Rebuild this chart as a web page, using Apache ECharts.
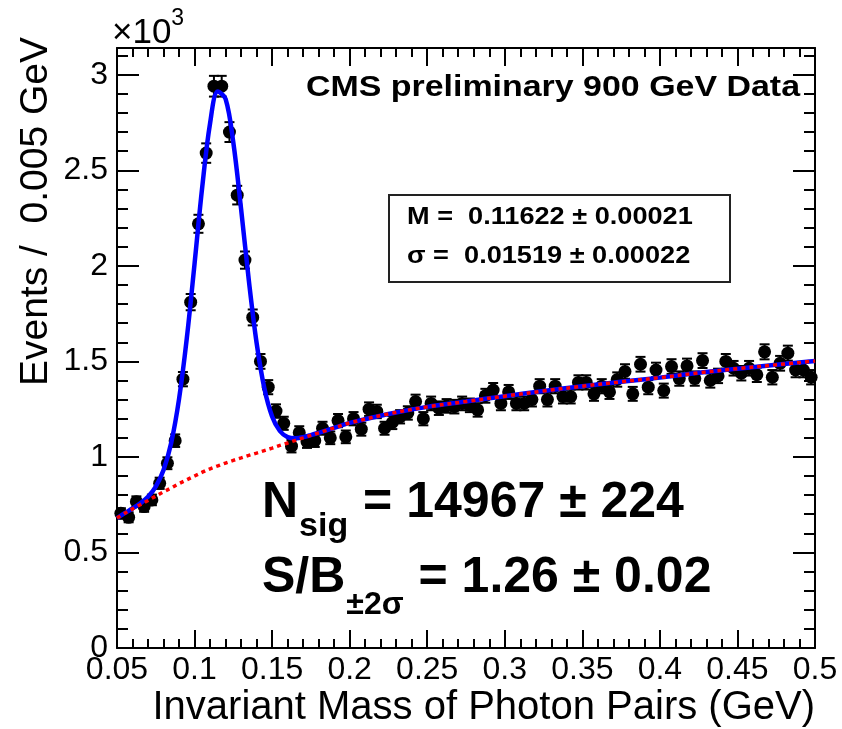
<!DOCTYPE html>
<html>
<head>
<meta charset="utf-8">
<script src="https://cdn.jsdelivr.net/npm/echarts@6/dist/echarts.min.js"></script>
<style>
  html, body { margin: 0; padding: 0; background: #fff; }
  #chart { width: 842px; height: 729px; }
</style>
</head>
<body>
<div id="chart"></div>
<script>
// Binning: 90 bins of 0.005 GeV between 0.05 and 0.5 GeV
const binLow = 0.05;
const binWidth = 0.005;
const binCenters = Array.from({ length: 90 }, (_, i) => +(binLow + binWidth * (i + 0.5)).toFixed(4));

// Events per bin (in units of 10^3)
const events = [
  0.705, 0.684, 0.766, 0.740, 0.775, 0.862, 0.967, 1.085, 1.407, 1.810,
  2.220, 2.590, 2.940, 2.940, 2.700, 2.370, 2.030, 1.730, 1.500, 1.365,
  1.240, 1.176, 1.056, 1.127, 1.080, 1.085, 1.150, 1.100, 1.190, 1.105,
  1.200, 1.145, 1.250, 1.238, 1.150, 1.180, 1.210, 1.230, 1.290, 1.200,
  1.280, 1.255, 1.267, 1.263, 1.280, 1.270, 1.246, 1.320, 1.350, 1.280,
  1.340, 1.280, 1.280, 1.300, 1.370, 1.300, 1.370, 1.316, 1.316, 1.390,
  1.390, 1.330, 1.370, 1.340, 1.405, 1.447, 1.330, 1.485, 1.365, 1.455,
  1.347, 1.473, 1.410, 1.476, 1.410, 1.504, 1.400, 1.424, 1.500, 1.464,
  1.438, 1.464, 1.430, 1.550, 1.417, 1.490, 1.543, 1.455, 1.455, 1.417
];

// Background component of the fit (in units of 10^3)
const bgX = [
  0.050, 0.055, 0.060, 0.065, 0.070, 0.075, 0.080, 0.085, 0.090, 0.095,
  0.100, 0.105, 0.110, 0.115, 0.120, 0.125, 0.130, 0.135, 0.140, 0.145,
  0.150, 0.155, 0.160, 0.165, 0.170, 0.175, 0.180, 0.185, 0.190, 0.195,
  0.200, 0.225, 0.250, 0.275, 0.300, 0.325, 0.350, 0.375, 0.400, 0.425,
  0.450, 0.475, 0.500
];
const bgY = [
  0.680, 0.705, 0.728, 0.750, 0.772, 0.795, 0.817, 0.838, 0.860, 0.880,
  0.900, 0.920, 0.938, 0.953, 0.968, 0.982, 0.995, 1.008, 1.020, 1.033,
  1.046, 1.060, 1.073, 1.087, 1.100, 1.113, 1.126, 1.139, 1.152, 1.165,
  1.178, 1.225, 1.262, 1.290, 1.318, 1.345, 1.370, 1.393, 1.415, 1.440,
  1.462, 1.482, 1.502
];

// Signal fit results
const massMean = 0.11622, massMeanErr = 0.00021;
const massSigma = 0.01519, massSigmaErr = 0.00022;
const nSig = 14967, nSigErr = 224;
const sOverB = 1.26, sOverBErr = 0.02;

// Gaussian signal expressed as events per bin, in units of 10^3
function signal(x) {
  const amp = nSig * binWidth / (massSigma * Math.sqrt(2 * Math.PI)) / 1000;
  const z = (x - massMean) / massSigma;
  return amp * Math.exp(-0.5 * z * z);
}

const pointData = binCenters.map((x, i) => [x, events[i]]);
const errData = binCenters.map((x, i) => {
  const e = Math.sqrt(events[i] * 1000) / 1000;
  return [x, events[i], events[i] - e, events[i] + e];
});
const bgData = bgX.map((x, i) => [x, bgY[i]]);
const totalData = bgX.map((x, i) => [x, bgY[i] + signal(x)]);

const FONT = '"Liberation Sans", Arial, Helvetica, sans-serif';
const measureCtx = document.createElement('canvas').getContext('2d');
function textW(text, font) { measureCtx.font = font; return measureCtx.measureText(text).width; }
function fontOf(size, bold) { return (bold ? 'bold ' : '') + size + 'px ' + FONT; }
function label(text, x, y, size, opt) {
  opt = opt || {};
  return {
    type: 'text', x: x, y: y, z: 100, rotation: opt.rot || 0,
    scaleX: opt.sx || 1,
    style: {
      text: text, font: fontOf(size, opt.bold), fill: '#000',
      align: opt.align || 'left', verticalAlign: opt.va || 'middle'
    }
  };
}

// Big annotation lines: main text + subscript + remainder
function subscriptLine(main, sub, rest, x, y, size, subSize, subDy) {
  const fMain = fontOf(size, true), fSub = fontOf(subSize, true);
  const w1 = textW(main, fMain);
  const w2 = textW(sub, fSub);
  return [
    label(main, x, y, size, { bold: true }),
    label(sub, x + w1 + 1, y + subDy, subSize, { bold: true }),
    label(rest, x + w1 + w2 + 2, y, size, { bold: true })
  ];
}

const graphics = [
  label('\u00d710', 112, 33, 35),
  label('3', 112 + textW('\u00d710', fontOf(35)), 19, 23),
  label('CMS preliminary 900 GeV Data', 800, 88, 29, { bold: true, align: 'right', sx: 1.17 }),
  {
    type: 'rect', z: 90,
    shape: { x: 389, y: 195, width: 341, height: 87 },
    style: { fill: '#fff', stroke: '#222', lineWidth: 2 }
  },
  label('M =  ' + massMean.toFixed(5) + ' \u00b1 ' + massMeanErr.toFixed(5), 407, 218, 23, { bold: true, sx: 1.18 }),
  label('\u03c3 =  ' + massSigma.toFixed(5) + ' \u00b1 ' + massSigmaErr.toFixed(5), 407, 257, 23, { bold: true, sx: 1.18 }),
  ...subscriptLine('N', 'sig', ' = ' + nSig + ' \u00b1 ' + nSigErr, 262, 503, 50, 34, 24),
  ...subscriptLine('S/B', '\u00b12\u03c3', ' = ' + sOverB.toFixed(2) + ' \u00b1 ' + sOverBErr.toFixed(2), 262, 578, 50, 32, 27),
  label('Invariant Mass of Photon Pairs (GeV)', 815, 708, 40, { align: 'right', sx: 1.0 }),
  label('Events /  0.005 GeV', 36, 37, 39, { align: 'right', rot: Math.PI / 2 })
];

const axisCommon = {
  type: 'value',
  axisLine: { show: true, onZero: false, lineStyle: { color: '#000', width: 2 } },
  splitLine: { show: false },
  minorSplitLine: { show: false }
};

const chart = echarts.init(document.getElementById('chart'), null, { renderer: 'canvas' });
chart.setOption({
  animation: false,
  backgroundColor: '#fff',
  grid: { left: 117, right: 27, top: 48, bottom: 81, containLabel: false },
  xAxis: [
    Object.assign({}, axisCommon, {
      position: 'bottom', min: 0.05, max: 0.5, interval: 0.05,
      axisTick: { show: true, inside: true, length: 18, lineStyle: { color: '#000', width: 2 } },
      minorTick: { show: true, splitNumber: 5, length: 9, lineStyle: { color: '#000', width: 2 } },
      axisLabel: {
        show: true, color: '#000', fontSize: 32, fontFamily: FONT, margin: 6,
        showMinLabel: true, showMaxLabel: true,
        formatter: v => String(parseFloat(v.toFixed(3)))
      }
    }),
    Object.assign({}, axisCommon, {
      position: 'top', min: 0.05, max: 0.5, interval: 0.05,
      axisTick: { show: true, inside: true, length: 18, lineStyle: { color: '#000', width: 2 } },
      minorTick: { show: true, splitNumber: 5, length: 9, lineStyle: { color: '#000', width: 2 } },
      axisLabel: { show: false }
    })
  ],
  yAxis: [
    Object.assign({}, axisCommon, {
      position: 'left', min: 0, max: 3.14, interval: 0.5,
      axisTick: { show: true, inside: true, length: 22, lineStyle: { color: '#000', width: 2 } },
      minorTick: { show: true, splitNumber: 5, length: 11, lineStyle: { color: '#000', width: 2 } },
      axisLabel: {
        show: true, color: '#000', fontSize: 32, fontFamily: FONT, margin: 9,
        showMaxLabel: false,
        formatter: v => String(parseFloat(v.toFixed(2)))
      }
    }),
    Object.assign({}, axisCommon, {
      position: 'right', min: 0, max: 3.14, interval: 0.5,
      axisTick: { show: true, inside: true, length: 22, lineStyle: { color: '#000', width: 2 } },
      minorTick: { show: true, splitNumber: 5, length: 11, lineStyle: { color: '#000', width: 2 } },
      axisLabel: { show: false }
    })
  ],
  graphic: graphics,
  series: [
    {
      name: 'errors', type: 'custom', xAxisIndex: 0, yAxisIndex: 0, z: 2, clip: true,
      data: errData,
      renderItem: function (params, api) {
        const x = api.value(0);
        const lo = api.coord([x, api.value(2)]);
        const hi = api.coord([x, api.value(3)]);
        const cap = 5;
        const ls = { stroke: '#000', lineWidth: 2 };
        return {
          type: 'group',
          children: [
            { type: 'line', shape: { x1: lo[0], y1: lo[1], x2: hi[0], y2: hi[1] }, style: ls },
            { type: 'line', shape: { x1: lo[0] - cap, y1: lo[1], x2: lo[0] + cap, y2: lo[1] }, style: ls },
            { type: 'line', shape: { x1: hi[0] - cap, y1: hi[1], x2: hi[0] + cap, y2: hi[1] }, style: ls }
          ]
        };
      }
    },
    {
      name: 'data', type: 'scatter', xAxisIndex: 0, yAxisIndex: 0, z: 3,
      data: pointData, symbol: 'circle', symbolSize: 13,
      itemStyle: { color: '#000', opacity: 1 },
      emphasis: { disabled: true }
    },
    {
      name: 'total', type: 'line', xAxisIndex: 0, yAxisIndex: 0, z: 4,
      data: totalData, showSymbol: false, smooth: 0.35,
      lineStyle: { color: '#0000ff', width: 4.5 },
      emphasis: { disabled: true }
    },
    {
      name: 'background', type: 'line', xAxisIndex: 0, yAxisIndex: 0, z: 5,
      data: bgData, showSymbol: false, smooth: 0.35,
      lineStyle: { color: '#ff0000', width: 3.5, type: [4, 4] },
      emphasis: { disabled: true }
    }
  ]
});
</script>
</body>
</html>
